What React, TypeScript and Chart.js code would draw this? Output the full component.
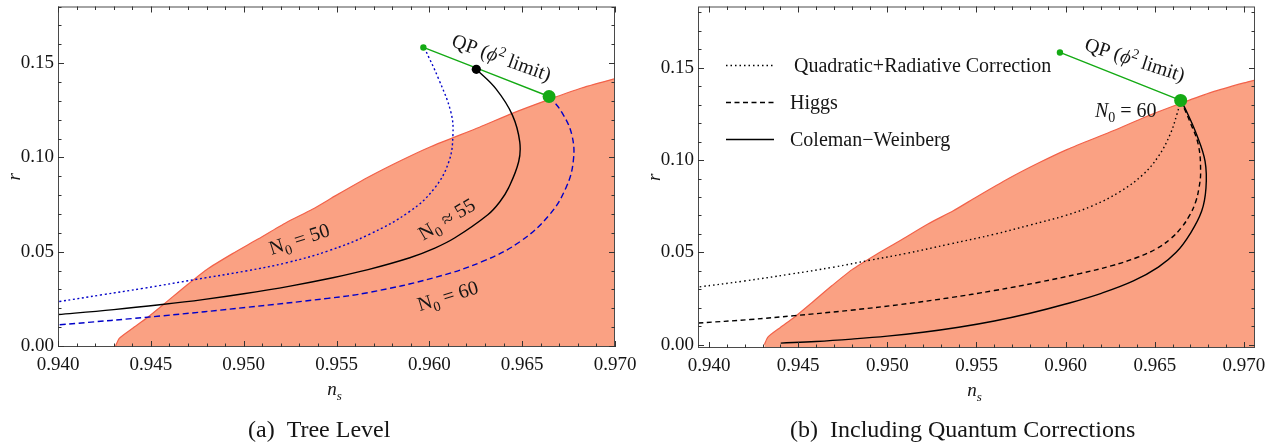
import React, { useEffect, useRef } from 'react';
import { Chart, registerables } from 'chart.js';
Chart.register(...registerables);

const FONT = '"Liberation Serif", "Times New Roman", serif';

// ---------- data ----------
// boundary of the shaded (allowed) region, same in both panels
const boundaryNs = [0.9431, 0.9433, 0.9440, 0.9448, 0.9457, 0.9469, 0.9480, 0.9494, 0.9507, 0.9523, 0.9537, 0.9550, 0.9568, 0.9585, 0.9601, 0.9627, 0.9645, 0.9665, 0.9682, 0.9700, 0.9712];
const boundaryR = [0.0, 0.0041, 0.0093, 0.0150, 0.0222, 0.0320, 0.0405, 0.0490, 0.0563, 0.0655, 0.0725, 0.0800, 0.0900, 0.0985, 0.1058, 0.1160, 0.1235, 0.1309, 0.1368, 0.1418, 0.1448];

// panel (a) tree level
const n50Ns = [0.95973, 0.9605, 0.96116, 0.96127, 0.96105, 0.96028, 0.95895, 0.95674, 0.95454, 0.95233, 0.95012, 0.94747, 0.94459, 0.94239, 0.9400, 0.9390];
const n50R = [0.1582, 0.1416, 0.1240, 0.1118, 0.0977, 0.0837, 0.0714, 0.0591, 0.0504, 0.0442, 0.0398, 0.0354, 0.0306, 0.0272, 0.0235, 0.0221];
const n55Ns = [0.96253, 0.96359, 0.96448, 0.96487, 0.96481, 0.96426, 0.9638, 0.96315, 0.96138, 0.9602, 0.95895, 0.9567, 0.9548, 0.9525, 0.9500, 0.9478, 0.9456, 0.9430, 0.9400, 0.9390];
const n55R = [0.1467, 0.1363, 0.1223, 0.1082, 0.0977, 0.0837, 0.0765, 0.0696, 0.0574, 0.0515, 0.0468, 0.0405, 0.0362, 0.0318, 0.0277, 0.0246, 0.0220, 0.0193, 0.0167, 0.0159];
const n60Ns = [0.96647, 0.96713, 0.96768, 0.96775, 0.96735, 0.96647, 0.96492, 0.96293, 0.96028, 0.95674, 0.95454, 0.95012, 0.9457, 0.9400, 0.9390];
const n60R = [0.1323, 0.1240, 0.1118, 0.0977, 0.0837, 0.0696, 0.0556, 0.0451, 0.0363, 0.0284, 0.0253, 0.0205, 0.0161, 0.0112, 0.0105];

// quadratic potential (phi^2 limit) segment and markers
const qpNs = [0.95968, 0.96645];
const qpR = [0.1583, 0.1323];
const n55EndNs = [0.96253];
const n55EndR = [0.1467];

// panel (b) including quantum corrections
const qrcNs = [0.96645, 0.96623, 0.96585, 0.9652, 0.9643, 0.9630, 0.9615, 0.9600, 0.9580, 0.9560, 0.9535, 0.9510, 0.9490, 0.9470, 0.9445, 0.9420, 0.9394];
const qrcR = [0.1323, 0.1244, 0.1137, 0.1020, 0.0918, 0.0826, 0.0752, 0.0700, 0.0648, 0.0598, 0.0545, 0.0493, 0.0457, 0.0420, 0.0381, 0.0345, 0.0312];
const higgsNs = [0.96645, 0.96697, 0.96744, 0.96757, 0.96748, 0.96728, 0.96695, 0.9665, 0.9659, 0.9651, 0.9640, 0.9626, 0.9608, 0.9585, 0.9560, 0.9535, 0.9507, 0.9479, 0.9448, 0.9423, 0.9394];
const higgsR = [0.1323, 0.1208, 0.1083, 0.0939, 0.0850, 0.0770, 0.0700, 0.0635, 0.0575, 0.0520, 0.0472, 0.0428, 0.0385, 0.0338, 0.0293, 0.0254, 0.0217, 0.0186, 0.0157, 0.0136, 0.0117];
const cwNs = [0.96645, 0.9667, 0.96735, 0.96782, 0.96787, 0.96763, 0.96697, 0.9662, 0.9652, 0.9638, 0.9620, 0.9600, 0.9580, 0.9560, 0.9540, 0.9520, 0.9500, 0.9480, 0.9460, 0.94402];
const cwR = [0.1323, 0.1280, 0.1137, 0.0993, 0.0849, 0.0724, 0.0599, 0.0500, 0.0420, 0.0345, 0.0278, 0.0220, 0.0170, 0.0128, 0.0094, 0.0067, 0.0046, 0.0030, 0.0017, 0.0008];

const xTickLabels = ['0.940', '0.945', '0.950', '0.955', '0.960', '0.965', '0.970'];
const yTickLabels = ['0.00', '0.05', '0.10', '0.15'];
const legendLabels = ['Quadratic+Radiative Correction', 'Higgs', 'Coleman\u2212Weinberg'];
const captionA = '(a)  Tree Level';
const captionB = '(b)  Including Quantum Corrections';

// ---------- helpers ----------
type Seg = { t: string; it?: boolean; sub?: boolean; sup?: boolean };
type Label = { segs: Seg[]; x: number; y: number; angle: number };

const pts = (xs: number[], ys: number[]) => xs.map((x, i) => ({ x, y: ys[i] }));

const FILL = 'rgb(250,161,131)';
const EDGE = 'rgb(242,98,74)';
const BLUE = 'rgb(0,0,200)';
const GREEN = 'rgb(20,170,20)';
const INK = '#151515';

function drawRich(ctx: CanvasRenderingContext2D, segs: Seg[], cx: number, cy: number, angle: number, size: number) {
  ctx.save();
  ctx.translate(cx, cy);
  ctx.rotate((angle * Math.PI) / 180);
  const fontFor = (s: Seg) => `${s.it ? 'italic ' : ''}${s.sub || s.sup ? Math.round(size * 0.7) : size}px ${FONT}`;
  let w = 0;
  const ws = segs.map((s) => {
    ctx.font = fontFor(s);
    const m = ctx.measureText(s.t).width;
    w += m;
    return m;
  });
  let x = -w / 2;
  ctx.textBaseline = 'alphabetic';
  ctx.textAlign = 'left';
  ctx.fillStyle = INK;
  const base = size * 0.33;
  segs.forEach((s, i) => {
    ctx.font = fontFor(s);
    const dy = s.sub ? size * 0.25 : s.sup ? -size * 0.38 : 0;
    ctx.fillText(s.t, x, base + dy);
    x += ws[i];
  });
  ctx.restore();
}

type PanelCfg = {
  xMin: number; xMax: number; yMin: number; yMax: number;
  padding: { left: number; right: number; top: number; bottom: number };
  labels: Label[];
  legend: boolean;
  caption: string;
  captionX: number;
};

function decorPlugin(cfg: PanelCfg) {
  return {
    id: 'decor',
    afterDraw(chart: any) {
      const ctx: CanvasRenderingContext2D = chart.ctx;
      const xs = chart.scales.x;
      const ys = chart.scales.y;
      const a = chart.chartArea;
      ctx.save();
      // frame
      ctx.strokeStyle = '#4a4a4a';
      ctx.lineWidth = 1;
      ctx.strokeRect(a.left + 0.5, a.top + 0.5, a.right - a.left - 1, a.bottom - a.top - 1);
      // ticks
      ctx.strokeStyle = '#333';
      ctx.beginPath();
      for (let k = Math.ceil(cfg.xMin * 1000 - 1e-6); k <= Math.floor(cfg.xMax * 1000 + 1e-6); k++) {
        const px = Math.round(xs.getPixelForValue(k / 1000)) + 0.5;
        const len = k % 5 === 0 ? 6 : 3.5;
        ctx.moveTo(px, a.bottom); ctx.lineTo(px, a.bottom - len);
        ctx.moveTo(px, a.top); ctx.lineTo(px, a.top + len);
      }
      for (let k = Math.ceil(cfg.yMin * 100 - 1e-6); k <= Math.floor(cfg.yMax * 100 + 1e-6); k++) {
        const py = Math.round(ys.getPixelForValue(k / 100)) + 0.5;
        const len = k % 5 === 0 ? 6 : 3.5;
        ctx.moveTo(a.left, py); ctx.lineTo(a.left + len, py);
        ctx.moveTo(a.right, py); ctx.lineTo(a.right - len, py);
      }
      ctx.stroke();
      // tick labels
      ctx.fillStyle = INK;
      ctx.font = `19px ${FONT}`;
      ctx.textAlign = 'center';
      ctx.textBaseline = 'middle';
      xTickLabels.forEach((t) => {
        ctx.fillText(t, xs.getPixelForValue(parseFloat(t)), a.bottom + 18);
      });
      ctx.textAlign = 'right';
      yTickLabels.forEach((t) => {
        ctx.fillText(t, a.left - 4, ys.getPixelForValue(parseFloat(t)));
      });
      // axis titles
      drawRich(ctx, [{ t: 'n', it: true }, { t: 's', it: true, sub: true }], (a.left + a.right) / 2 - 2, a.bottom + 42, 0, 19);
      drawRich(ctx, [{ t: 'r', it: true }], 14, (a.top + a.bottom) / 2, -90, 19);
      // annotations
      cfg.labels.forEach((l) => {
        drawRich(ctx, l.segs, xs.getPixelForValue(l.x), ys.getPixelForValue(l.y), l.angle, 20);
      });
      // legend
      if (cfg.legend) {
        const dashes = [[1.5, 3], [5, 3.5], []];
        legendLabels.forEach((t, i) => {
          const y = 65.5 + i * 37;
          ctx.strokeStyle = '#000';
          ctx.lineWidth = 1.3;
          ctx.setLineDash(dashes[i]);
          ctx.beginPath();
          ctx.moveTo(86, y); ctx.lineTo(134, y);
          ctx.stroke();
          ctx.setLineDash([]);
          ctx.fillStyle = INK;
          ctx.font = `20px ${FONT}`;
          ctx.textAlign = 'left';
          ctx.textBaseline = 'middle';
          ctx.fillText(t, i === 0 ? 154 : 150, y + 1);
        });
      }
      // caption
      ctx.fillStyle = INK;
      ctx.font = `24px ${FONT}`;
      ctx.textAlign = 'left';
      ctx.textBaseline = 'alphabetic';
      ctx.fillText(cfg.caption, cfg.captionX, 437);
      ctx.restore();
    },
  };
}

function curve(data: { x: number; y: number }[], color: string, dash: number[], order: number) {
  return {
    data,
    borderColor: color,
    borderWidth: 1.4,
    borderDash: dash,
    pointRadius: 0,
    tension: 0.4,
    fill: false,
    order,
  };
}

function dot(data: { x: number; y: number }[], color: string, r: number) {
  return {
    data,
    showLine: false,
    pointRadius: r,
    pointBackgroundColor: color,
    pointBorderColor: color,
    pointBorderWidth: 0,
    order: 0,
  };
}

function buildConfig(cfg: PanelCfg, curves: any[]) {
  const datasets = [
    ...curves,
    {
      data: pts(boundaryNs, boundaryR),
      borderColor: EDGE,
      borderWidth: 1.2,
      backgroundColor: FILL,
      pointRadius: 0,
      tension: 0.2,
      fill: { value: -0.01 },
      order: 10,
    },
  ];
  return {
    type: 'line',
    data: { datasets },
    options: {
      responsive: false,
      animation: false,
      events: [],
      layout: { padding: cfg.padding },
      plugins: { legend: { display: false }, tooltip: { enabled: false } },
      scales: {
        x: { type: 'linear', min: cfg.xMin, max: cfg.xMax, display: false },
        y: { type: 'linear', min: cfg.yMin, max: cfg.yMax, display: false },
      },
    },
    plugins: [decorPlugin(cfg)],
  };
}

const N0 = (rest: string, it = false): Seg[] => [{ t: 'N', it }, { t: '0', sub: true }, { t: rest }];

const cfgA: PanelCfg = {
  xMin: 0.94, xMax: 0.97, yMin: -0.0005, yMax: 0.18,
  padding: { left: 58, right: 25, top: 4, bottom: 99 },
  labels: [
    { segs: N0(' = 50'), x: 0.95299, y: 0.0568, angle: -18 },
    { segs: N0(' \u2248 55'), x: 0.96093, y: 0.0674, angle: -31 },
    { segs: N0(' = 60'), x: 0.96099, y: 0.0267, angle: -17 },
    { segs: [{ t: 'QP (' }, { t: '\u03D5', it: true }, { t: '2', sup: true }, { t: ' limit)' }], x: 0.9639, y: 0.1530, angle: 20 },
  ],
  legend: false,
  caption: captionA,
  captionX: 248,
};

const cfgB: PanelCfg = {
  xMin: 0.93938, xMax: 0.97062, yMin: -0.00183, yMax: 0.1832,
  padding: { left: 58, right: 25, top: 4, bottom: 98 },
  labels: [
    { segs: [{ t: 'QP (' }, { t: '\u03D5', it: true }, { t: '2', sup: true }, { t: ' limit)' }], x: 0.96389, y: 0.1545, angle: 18 },
    { segs: N0(' = 60', true), x: 0.96337, y: 0.1267, angle: 0 },
  ],
  legend: true,
  caption: captionB,
  captionX: 150,
};

function Panel({ cfg, curves, left }: { cfg: PanelCfg; curves: any[]; left: number }) {
  const ref = useRef<HTMLCanvasElement>(null);
  useEffect(() => {
    if (!ref.current) return;
    const chart = new Chart(ref.current, buildConfig(cfg, curves) as any);
    return () => chart.destroy();
  }, []);
  return (
    <canvas
      ref={ref}
      width={640}
      height={446}
      style={{ position: 'absolute', left, top: 0, width: 640, height: 446, display: 'block' }}
    />
  );
}

export default function App() {
  const curvesA = [
    dot(pts(qpNs.slice(0, 1), qpR.slice(0, 1)), GREEN, 3.2),
    dot(pts(n55EndNs, n55EndR), '#000', 4.6),
    dot(pts(qpNs.slice(1), qpR.slice(1)), GREEN, 6.5),
    curve(pts(qpNs, qpR), GREEN, [], 1),
    curve(pts(n50Ns, n50R), BLUE, [2, 2.6], 2),
    curve(pts(n55Ns, n55R), '#000', [], 2),
    curve(pts(n60Ns, n60R), BLUE, [6, 3.5], 2),
  ];
  const curvesB = [
    dot(pts(qpNs.slice(0, 1), qpR.slice(0, 1)), GREEN, 3.2),
    dot(pts(qpNs.slice(1), qpR.slice(1)), GREEN, 6.5),
    curve(pts(qpNs, qpR), GREEN, [], 1),
    curve(pts(qrcNs, qrcR), '#000', [1.5, 3], 2),
    curve(pts(higgsNs, higgsR), '#000', [5, 3.5], 2),
    curve(pts(cwNs, cwR), '#000', [], 2),
  ];
  return (
    <div style={{ position: 'absolute', left: 0, top: 0, width: 1280, height: 446, background: '#fff', overflow: 'hidden' }}>
      <Panel cfg={cfgA} curves={curvesA} left={0} />
      <Panel cfg={cfgB} curves={curvesB} left={640} />
    </div>
  );
}
